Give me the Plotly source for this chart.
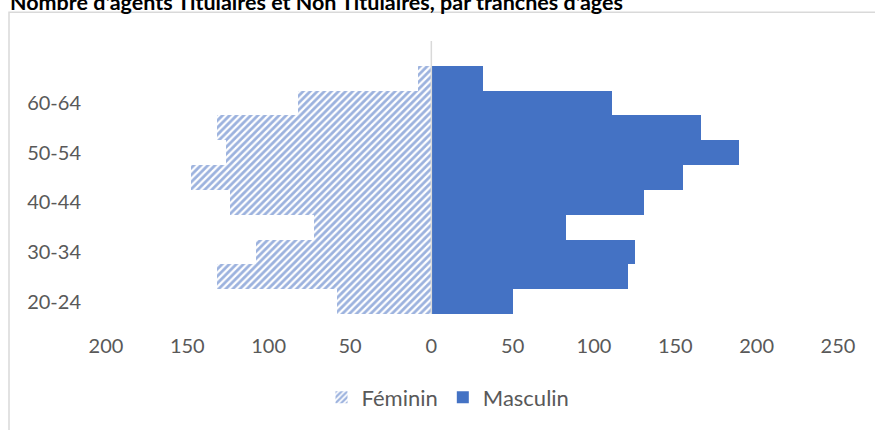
import plotly.graph_objects as go

# Data (categories bottom to top)
age_groups = ["20-24", "25-29", "30-34", "35-39", "40-44", "45-49", "50-54", "55-59", "60-64", "65+"]
feminin = [58, 132, 108, 72, 124, 148, 126, 132, 82, 8]
masculin = [50, 121, 125, 83, 131, 155, 189, 166, 111, 32]
shown_age_labels = ["20-24", "30-34", "40-44", "50-54", "60-64"]
x_tick_values = [-200, -150, -100, -50, 0, 50, 100, 150, 200, 250]
title_text = "Nombre d'agents Titulaires et Non Titulaires, par tranches d'âges"

BLUE = "#4472C4"
HATCH = "#3A66BD"
GREY_TXT = "#595959"
FONT = "Lato, 'Open Sans', sans-serif"

fig = go.Figure()
fig.add_trace(go.Bar(
    y=age_groups, x=[-v for v in feminin], orientation="h", name="Féminin",
    marker=dict(color="white", line=dict(width=0),
                pattern=dict(shape="/", fgcolor=HATCH, bgcolor="white", size=5, solidity=0.55)),
    customdata=feminin, hovertemplate="%{y}: %{customdata}<extra>Féminin</extra>",
))
fig.add_trace(go.Bar(
    y=age_groups, x=masculin, orientation="h", name="Masculin",
    marker=dict(color=BLUE, line=dict(width=0)),
))

W, H = 875, 430
L, R, T, B = 106, 37, 41, 114
pw, ph = W - L - R, H - T - B

def px_x(px):
    return (px - L) / pw

def px_y(py):
    return (H - B - py) / ph

fig.update_layout(
    width=W, height=H,
    margin=dict(l=L, r=R, t=T, b=B, pad=0),
    paper_bgcolor="white", plot_bgcolor="white",
    barmode="relative", bargap=0,
    font=dict(family=FONT, color=GREY_TXT, size=20),
    showlegend=True,
    legend=dict(orientation="h", x=px_x(448), xanchor="center", y=px_y(400), yanchor="middle",
                font=dict(size=22, color=GREY_TXT), traceorder="normal",
                itemwidth=30, bgcolor="rgba(0,0,0,0)"),
    xaxis=dict(range=[-200, 250], tickvals=x_tick_values,
               ticktext=[str(abs(v)) for v in x_tick_values],
               showgrid=False, zeroline=False, showline=False, ticks="",
               tickfont=dict(size=20, color=GREY_TXT), ticklabelstandoff=18, fixedrange=True),
    yaxis=dict(type="category", categoryorder="array", categoryarray=age_groups,
               range=[-0.5, 10.5], tickvals=shown_age_labels,
               showgrid=False, zeroline=False, showline=False, ticks="",
               tickfont=dict(size=20, color=GREY_TXT), ticklabelstandoff=24, fixedrange=True),
    shapes=[
        dict(type="rect", xref="paper", yref="paper", x0=px_x(9), x1=px_x(W + 20),
             y0=px_y(H + 20), y1=px_y(12), line=dict(color="#D9D9D9", width=1.5),
             fillcolor="rgba(0,0,0,0)", layer="below"),
        dict(type="line", xref="x", yref="paper", x0=0, x1=0, y0=0, y1=1,
             line=dict(color="#D9D9D9", width=1.5), layer="above"),
    ],
    annotations=[
        dict(text="<b>" + title_text + "</b>", xref="paper", yref="paper",
             x=px_x(8), xanchor="left", y=px_y(2), yanchor="middle", showarrow=False,
             font=dict(family=FONT, size=21.5, color="black")),
    ],
)

fig.write_html("out.html", config={"displayModeBar": False},
               post_script="document.body.style.margin='0';document.body.style.overflow='hidden';")
